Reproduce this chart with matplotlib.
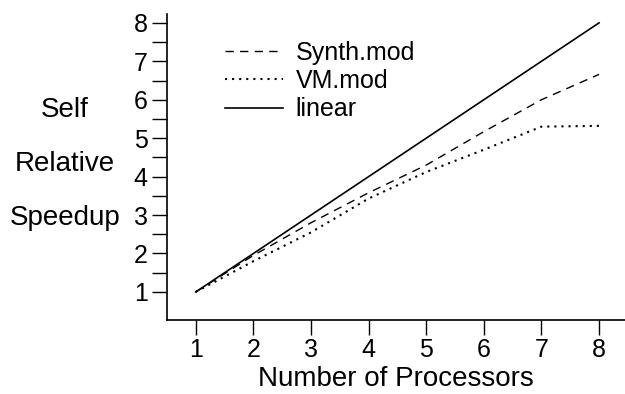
import numpy as np
import matplotlib
matplotlib.use("Agg")
import matplotlib.pyplot as plt

# dati
processori = [1, 2, 3, 4, 5, 6, 7, 8]
synth_mod = [1.0, 1.95, 2.8, 3.58, 4.3, 5.17, 6.0, 6.66]
vm_mod = [1.0, 1.8, 2.55, 3.43, 4.12, 4.7, 5.3, 5.32]
lineare = [1, 2, 3, 4, 5, 6, 7, 8]

plt.rcParams['font.family'] = ['Liberation Sans', 'DejaVu Sans']

fig = plt.figure(figsize=(6.25, 3.94), dpi=100)
ax = fig.add_axes([167/625, (394-320)/394, 458/625, 306/394])

ax.plot(processori, synth_mod, color='black', lw=1.0, linestyle=(0, (6, 4.5)), label='Synth.mod')
ax.plot(processori, vm_mod, color='black', lw=1.5, linestyle=(0, (1, 2.4)), label='VM.mod')
ax.plot(processori, lineare, color='black', lw=1.2, linestyle='-', label='linear')

ax.set_xlim(0.5, 8.45)
ax.set_ylim(0.27, 8.23)
ax.set_xticks(processori)
ax.set_yticks(range(1, 9))
ax.set_yticks(np.arange(1.5, 8.0, 1.0), minor=True)

for s in ['top', 'right']:
    ax.spines[s].set_visible(False)
for s in ['left', 'bottom']:
    ax.spines[s].set_linewidth(1.2)

ax.tick_params(axis='both', which='both', direction='out', length=11, width=1.0, labelsize=18, pad=3)
ax.tick_params(axis='x', pad=2)

ax.set_xlabel('Number of Processors', fontsize=20, labelpad=3)
ax.set_ylabel('Self\nRelative\nSpeedup', fontsize=20, rotation=0,
              linespacing=2.42, ha='center', va='center')
ax.yaxis.set_label_coords(-0.223, 0.51)

ax.legend(loc='upper left', bbox_to_anchor=(0.127, 0.912), frameon=False,
          fontsize=18, handlelength=2.3, handletextpad=0.52, labelspacing=0.17,
          borderpad=0, borderaxespad=0)

plt.savefig('out.png', dpi=100)
plt.close()
